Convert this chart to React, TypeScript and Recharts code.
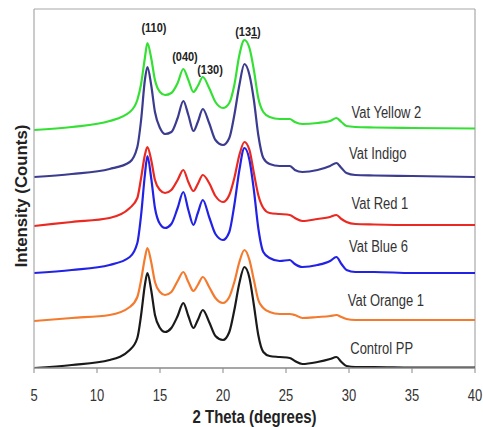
import React from 'react';
import { LineChart, Line, XAxis, YAxis, ReferenceDot, ReferenceLine } from 'recharts';

// 2θ sample positions (degrees)
const twoTheta = [5, 8, 11, 12.6, 13.2, 13.5, 13.8, 14.0, 14.3, 14.6, 15.0, 15.4, 15.9, 16.4, 16.85, 17.25, 17.65, 18.0, 18.4, 18.9, 19.4, 20.0, 20.5, 20.9, 21.3, 21.7, 22.1, 22.45, 22.8, 23.2, 23.7, 24.5, 25.3, 25.7, 26.3, 27.5, 28.5, 29.0, 29.4, 29.8, 30.5, 32, 35, 40];

// stacked intensities (arbitrary counts, offset per sample)
const vatYellow2 = [238, 241, 247, 256, 268, 284, 310, 325, 310, 288, 276, 273, 275, 285, 299, 288, 276, 282, 291, 280, 266, 260, 265, 283, 313, 328, 320, 298, 270, 256, 251, 249, 249, 246, 244, 245, 247, 250, 246, 242, 241, 240.5, 240, 239.5];
const vatIndigo = [191, 194, 199, 206, 221, 248, 288, 301, 283, 256, 240, 234, 236, 250, 267, 253, 237, 246, 259, 245, 228, 223, 230, 253, 283, 304, 293, 268, 233, 210, 204, 202, 202, 198, 196, 198, 202, 205, 200, 195, 193, 192.5, 192, 191];
const vatRed1 = [142, 146, 150, 160, 170, 190, 213, 221, 208, 188, 178, 175, 178, 188, 198, 186, 177, 184, 193, 185, 172, 166, 173, 190, 213, 226, 218, 195, 173, 160, 155, 154, 153, 150, 147, 149, 151, 153, 149, 146, 144, 143.5, 143, 143];
const vatBlue6 = [95, 98, 103, 111, 125, 153, 193, 212, 190, 160, 144, 140, 144, 160, 176, 158, 143, 155, 168, 151, 134, 128, 136, 163, 198, 220, 208, 178, 140, 116, 110, 107, 108, 104, 101, 103, 107, 111, 104, 98, 96, 96, 95, 95];
const vatOrange1 = [47, 50, 53, 61, 71, 88, 110, 120, 106, 86, 76, 73, 76, 87, 96, 86, 77, 83, 91, 81, 70, 65, 71, 86, 106, 118, 108, 88, 68, 60, 56, 54, 54, 53, 50, 51, 52, 53, 51, 49, 48, 48, 48, 48];
const controlPP = [0, 3, 8, 18, 30, 53, 83, 95, 78, 53, 40, 36, 40, 52, 65, 52, 40, 48, 58, 46, 32, 28, 36, 58, 85, 101, 90, 63, 33, 16, 12, 11, 10, 7, 4, 6, 9, 11, 6, 2, 1, 1, 0.5, 0.5];

const xTicks = [5, 10, 15, 20, 25, 30, 35, 40];

const seriesNames = ['Vat Yellow 2', 'Vat Indigo', 'Vat Red 1', 'Vat Blue 6', 'Vat Orange 1', 'Control PP'];
const seriesColors = ['#35e035', '#3b3b8f', '#ea2a22', '#2222e6', '#f47b2e', '#1a1a1a'];
const seriesValues = [vatYellow2, vatIndigo, vatRed1, vatBlue6, vatOrange1, controlPP];

// curve label anchors: [2θ, intensity]
const curveLabelTheta = [30.2, 30.0, 30.2, 30.0, 29.9, 30.1];
const curveLabelLevel = [255, 214, 164, 121, 67, 19];

// peak (hkl) label anchors
const peakLabels = ['(110)', '(040)', '(130)', '(131)'];
const peakTheta = [14.52, 16.98, 18.97, 21.98];
const peakLevel = [340, 311, 298, 336];

const data = twoTheta.map((t, i) => {
  const row: Record<string, number> = { t };
  seriesNames.forEach((n, k) => {
    row[n] = seriesValues[k][i];
  });
  return row;
});

const FONT = '"Liberation Sans", Arial, sans-serif';
const SY = 1.2;

const XTick = (props: any) => {
  const { x, payload } = props;
  return (
    <text
      transform={`translate(${x},401) scale(1,${SY})`}
      textAnchor="middle"
      fontFamily={FONT}
      fontSize={13}
      fill="#333"
    >
      {payload.value}
    </text>
  );
};

const CurveLabel = (text: string) => (props: any) => {
  const { cx, cy } = props;
  return (
    <text
      transform={`translate(${cx},${cy + 5}) scale(1,${SY})`}
      textAnchor="start"
      fontFamily={FONT}
      fontSize={13}
      fill="#333"
    >
      {text}
    </text>
  );
};

const PeakLabel = (text: string) => (props: any) => {
  const { cx, cy } = props;
  const content =
    text === '(131)' ? (
      <>
        (13<tspan textDecoration="underline" style={{ textDecoration: 'underline' }}>1</tspan>)
      </>
    ) : (
      text
    );
  return (
    <text
      transform={`translate(${cx},${cy + 4}) scale(1,${SY})`}
      textAnchor="middle"
      fontFamily={FONT}
      fontSize={11}
      fontWeight="bold"
      fill="#222"
    >
      {content}
    </text>
  );
};

const XTitle = (props: any) => {
  const vb = props.viewBox;
  const cx = vb.x + vb.width / 2;
  return (
    <text
      transform={`translate(${cx},423) scale(1,${SY})`}
      textAnchor="middle"
      fontFamily={FONT}
      fontSize={15}
      fontWeight="bold"
      fill="#222"
    >
      2 Theta (degrees)
    </text>
  );
};

const YTitle = () => {
  return (
    <text
      transform={`translate(27,196) scale(1,1.05) rotate(-90)`}
      textAnchor="middle"
      fontFamily={FONT}
      fontSize={16}
      fontWeight="bold"
      fill="#222"
    >
      Intensity (Counts)
    </text>
  );
};

export default function App() {
  return (
    <>
      <style>{'html,body{margin:0;padding:0;overflow:hidden;}'}</style>
      <LineChart
        width={483}
        height={427}
        data={data}
        margin={{ top: 9, right: 8, left: 8, bottom: 0 }}
      >
        <XAxis
          dataKey="t"
          type="number"
          domain={[5, 40]}
          ticks={xTicks}
          height={59}
          tickSize={5}
          tick={<XTick />}
          axisLine={{ stroke: '#888', strokeWidth: 1.5 }}
          tickLine={{ stroke: '#888' }}
          label={<XTitle />}
          allowDataOverflow
        />
        <YAxis
          type="number"
          domain={[0, 359]}
          width={26}
          tick={false}
          tickLine={false}
          axisLine={{ stroke: '#a8a8a8', strokeWidth: 1.2 }}
          label={<YTitle />}
          allowDataOverflow
        />
        <ReferenceLine y={359} stroke="#a8a8a8" strokeWidth={1.2} />
        <ReferenceLine x={40} stroke="#a8a8a8" strokeWidth={1.2} />
        {seriesNames.map((n, k) => (
          <Line
            key={n}
            dataKey={n}
            type="monotone"
            stroke={seriesColors[k]}
            strokeWidth={2.2}
            dot={false}
            isAnimationActive={false}
          />
        ))}
        {seriesNames.map((n, k) => (
          <ReferenceDot
            key={'cl' + n}
            x={curveLabelTheta[k]}
            y={curveLabelLevel[k]}
            r={0}
            shape={CurveLabel(n)}
          />
        ))}
        {peakLabels.map((p, k) => (
          <ReferenceDot
            key={'pl' + p}
            x={peakTheta[k]}
            y={peakLevel[k]}
            r={0}
            shape={PeakLabel(p)}
          />
        ))}
      </LineChart>
    </>
  );
}
